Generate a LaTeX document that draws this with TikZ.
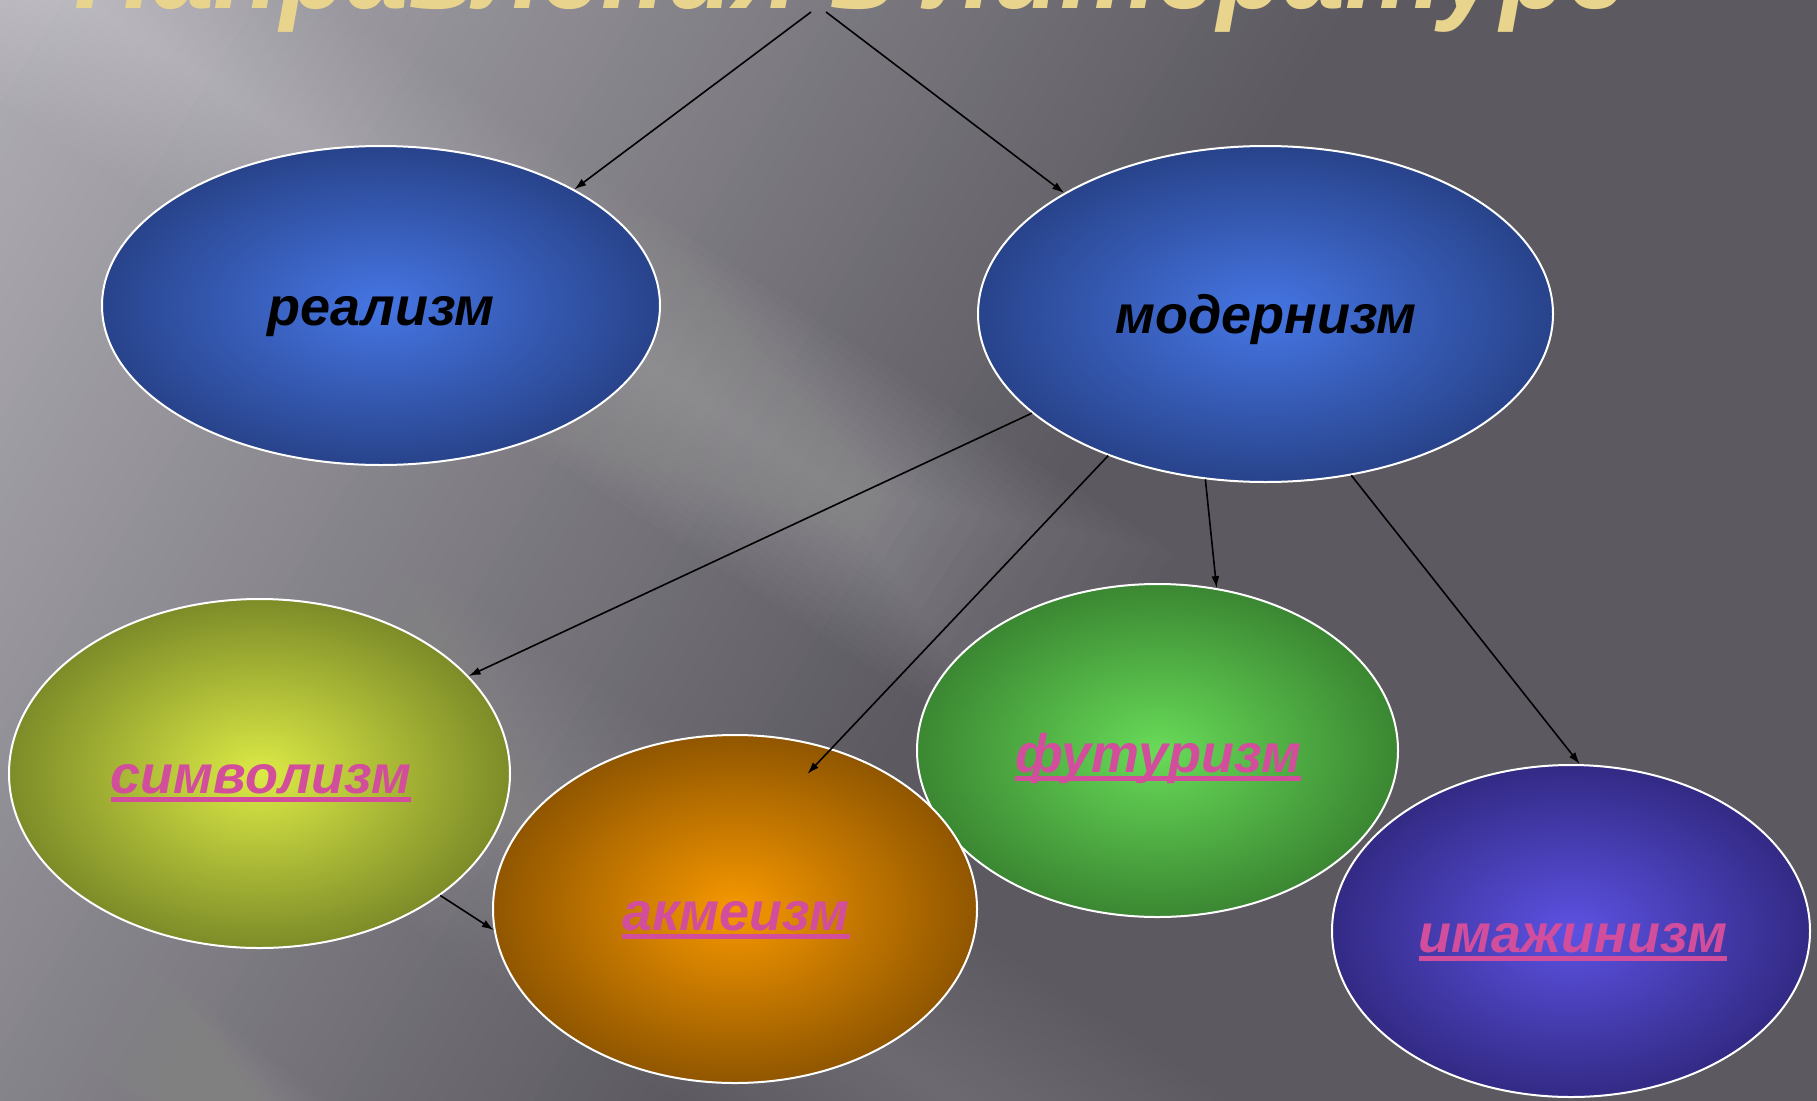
\documentclass[tikz,border=0pt]{standalone}
\usepackage{fontspec}
\setmainfont{Liberation Sans}
\usetikzlibrary{shapes.geometric,arrows.meta,calc}
\definecolor{bgLight}{RGB}{176,173,181}
\definecolor{bgDark}{RGB}{92,90,96}
\definecolor{blueC}{HTML}{4676E4}
\definecolor{blueE}{HTML}{28438B}
\definecolor{yelC}{HTML}{DCEA46}
\definecolor{yelE}{HTML}{7D8C28}
\definecolor{orC}{HTML}{F79800}
\definecolor{orE}{HTML}{905600}
\definecolor{grC}{HTML}{68DB58}
\definecolor{grE}{HTML}{3B8732}
\definecolor{puC}{HTML}{5C52E3}
\definecolor{puE}{HTML}{332A85}
\definecolor{pinkT}{HTML}{D24E9C}
\definecolor{goldT}{HTML}{E9D48E}
% centre x, centre y, angle, half width, peak opacity, colour, start, end (along the streak)
% nested bands: each narrower band is also shorter at the far end, so the streak fades out
\newcommand{\bgstreak}[8]{%
  \begin{scope}[shift={(#1,#2)}, rotate=-#3]
  \foreach \k in {1,...,16}{
    \fill[#6, opacity=#5/16] (#7,{-#4*(17-\k)/16}) rectangle ({#8-(\k-1)*20},{#4*(17-\k)/16});
  }
  \end{scope}}
\tikzset{
  ell/.style={ellipse, draw=white, line width=2pt, inner sep=0pt},
  lbl/.style={inner sep=0pt, anchor=base, font=\fontsize{54}{60}\selectfont\bfseries\itshape},
  plbl/.style={lbl, text=pinkT},
  uline/.style={pinkT, line width=5pt},
  conn/.style={-{Latex[length=12pt,width=8pt]}, line width=1.6pt, black},
  ttl/.style={inner sep=0pt, anchor=base west, text=goldT, font=\fontsize{115}{120}\selectfont\bfseries\itshape}
}
\begin{document}
\begin{tikzpicture}[x=1pt,y=-1pt]
\useasboundingbox (0,0) rectangle (1817,1100);
\clip (0,0) rectangle (1817,1100);
% background: diagonal gradient made of overlapping opaque strips
\begin{scope}[rotate=-31.5]
  \fill[bgDark] (-500,-3000) rectangle (3000,3000);
  \foreach \i in {0,...,79}{
    \pgfmathsetmacro{\ua}{-20+\i*15}
    \pgfmathsetmacro{\pp}{max(0,min(100,(176-0.0727*(\ua+7.5)-92)/84*100))}
    \fill[bgLight!\pp!bgDark] (\ua,-3000) rectangle ({\ua+17},3000);
  }
\end{scope}
% soft light streaks
\bgstreak{700}{400}{33}{130}{0.28}{white}{-1500}{480}
\bgstreak{0}{480}{33}{150}{0.15}{white}{-1500}{1800}
\bgstreak{100}{1000}{38}{60}{0.10}{white}{-1500}{1800}
% title
\node[ttl] (title) at (74,9) {\scalebox{0.951}[1]{Направления в литературе}};
% ellipses
\node[ell, minimum width=558pt, minimum height=319pt, inner color=blueC, outer color=blueE] (re) at (381,305.5) {};
\node[ell, minimum width=575pt, minimum height=336pt, inner color=blueC, outer color=blueE] (mod) at (1265.5,314) {};
\node[ell, minimum width=478pt, minimum height=332pt, inner color=puC, outer color=puE] (ima) at (1571,931) {};
\node[ell, minimum width=481pt, minimum height=333pt, inner color=grC, outer color=grE] (fut) at (1157.5,750.5) {};
\node[ell, minimum width=484pt, minimum height=348pt, inner color=orC, outer color=orE] (ak) at (735,909) {};
\node[ell, minimum width=501pt, minimum height=349pt, inner color=yelC, outer color=yelE] (sym) at (259.5,773.5) {};
% labels
\node[lbl] (reT) at (381,325) {реализм};
\node[lbl] (modT) at (1266,333) {модернизм};
\node[plbl] (symT) at (261,793) {символизм};
\node[plbl] (akT) at (736,930) {акмеизм};
\node[plbl] (futT) at (1158,772) {футуризм};
\node[plbl] (imaT) at (1573,952) {имажинизм};
\foreach \t in {symT,akT,futT,imaT}{
  \draw[uline] ([yshift=-6.5pt]\t.base west) -- ([yshift=-6.5pt]\t.base east);
}
% connectors
\coordinate (o1) at (811,12);
\coordinate (o2) at (826,12);
\draw[conn] (o1) -- (re.31.6);
\draw[conn] (o2) -- (mod.149.4);
\draw[conn] (mod.203.4) -- (sym.25.9);
\draw[conn, shorten >=-35pt] (mod.222.5) -- (ak.59.4);
\draw[conn] (mod.250.1) -- (fut.70.3);
\draw[conn] (mod.298.7) -- (ima.87.2);
\draw[conn] (sym.-34.5) -- (ak.185.5);
\end{tikzpicture}
\end{document}
